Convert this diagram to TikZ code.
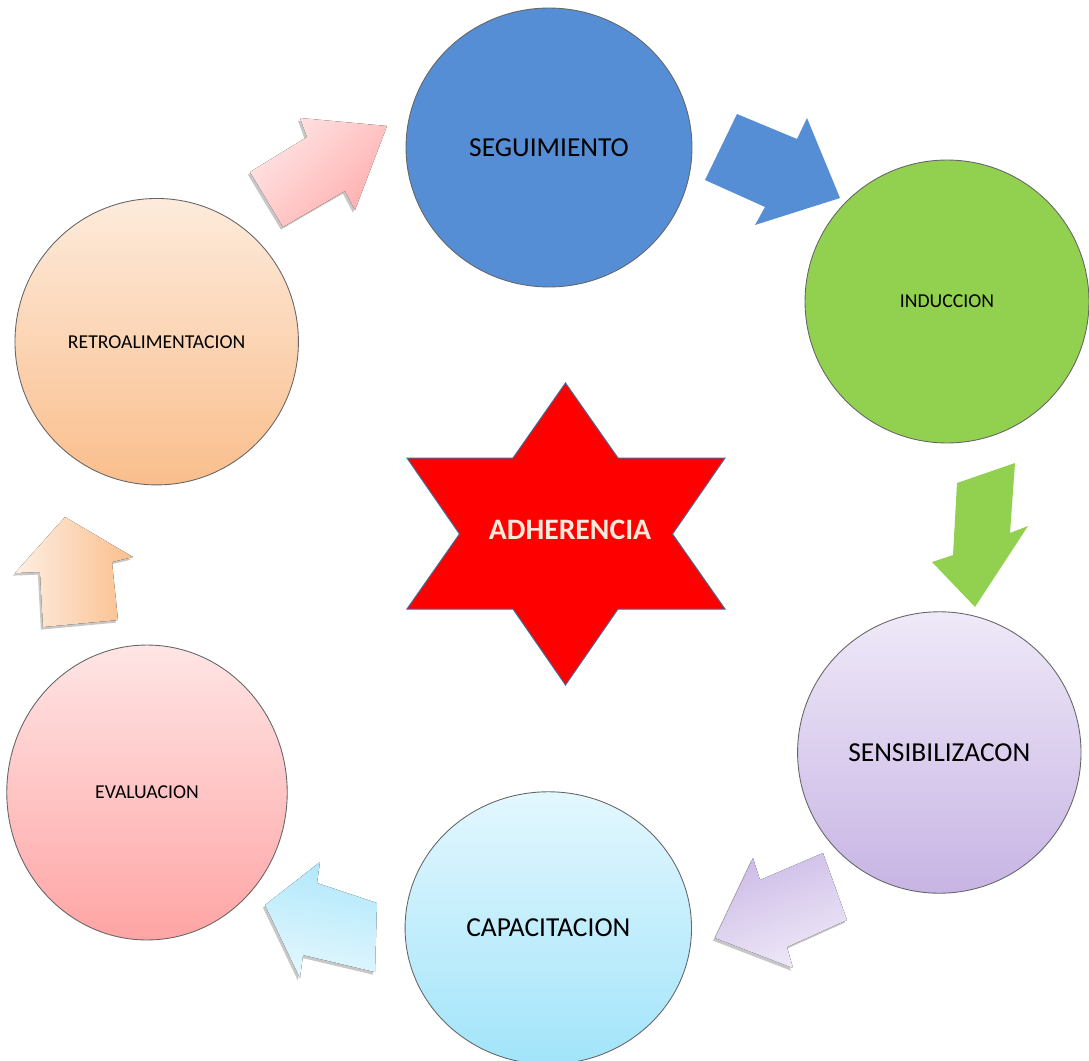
\documentclass[tikz,border=0pt]{standalone}
\usepackage{fontspec}
\setmainfont{Carlito}
\usepackage{xcolor}
\usepackage{tikz}
\usetikzlibrary{shapes.geometric}
\usetikzlibrary{shadows}

\definecolor{segblue}{RGB}{85,142,213}
\definecolor{indgreen}{RGB}{146,208,80}
\definecolor{senstop}{RGB}{239,233,248}
\definecolor{sensbot}{RGB}{199,180,228}
\definecolor{captop}{RGB}{227,247,254}
\definecolor{capbot}{RGB}{162,228,250}
\definecolor{evaltop}{RGB}{255,229,229}
\definecolor{evalbot}{RGB}{255,164,164}
\definecolor{retrotop}{RGB}{253,235,220}
\definecolor{retrobot}{RGB}{250,190,140}
\definecolor{adhred}{RGB}{255,0,0}
\definecolor{adhtext}{RGB}{253,233,217}
\definecolor{starline}{RGB}{70,105,150}

\tikzset{
  stage/.style={ellipse, draw=black!60, line width=0.5pt, inner sep=0pt, text=black},
  pastel/.style={drop shadow={shadow xshift=-1.2pt, shadow yshift=-1.5pt, fill=black, opacity=0.22}},
}

\begin{document}
\begin{tikzpicture}[x=0.02cm,y=-0.02cm]
                \useasboundingbox (0,0) rectangle (1089,1061);
                {\normalsize

                % Drawing star ADHERENCIA
                \draw [fill=adhred, draw=starline, line width=0.02cm] (565.5,383) -- (618,458) -- (725,458) -- (672.5,534) -- (725,609) -- (618,609) -- (565.5,685) -- (513,609) -- (407,609) -- (459.5,534) -- (407,458) -- (513,458) -- cycle;%
                \draw (570,530) node (adh) [text=adhtext, font=\fontsize{16.9}{20}\selectfont\bfseries] {ADHERENCIA};%

                % Marking stage SEGUIMIENTO
                \draw (549,147.5) node (seg) [stage, fill=segblue, minimum width=5.72cm, minimum height=5.58cm, font=\fontsize{15.6}{18}\selectfont] {SEGUIMIENTO};%

                % Marking stage INDUCCION
                \draw (947,301.5) node (ind) [stage, fill=indgreen, minimum width=5.68cm, minimum height=5.66cm, font=\fontsize{11.2}{14}\selectfont] {INDUCCION};%

                % Marking stage SENSIBILIZACON
                \draw (939.3,752.5) node (sens) [stage, top color=senstop, bottom color=sensbot, minimum width=5.67cm, minimum height=5.63cm, font=\fontsize{15.6}{18}\selectfont] {SENSIBILIZACON};%

                % Marking stage CAPACITACION
                \draw (548.3,928) node (cap) [stage, top color=captop, bottom color=capbot, minimum width=5.73cm, minimum height=5.45cm, font=\fontsize{15.6}{18}\selectfont] {CAPACITACION};%

                % Marking stage EVALUACION
                \draw (147,792.5) node (eval) [stage, top color=evaltop, bottom color=evalbot, minimum width=5.61cm, minimum height=5.90cm, font=\fontsize{11.2}{14}\selectfont] {EVALUACION};%

                % Marking stage RETROALIMENTACION
                \draw (156.7,341.7) node (retro) [stage, top color=retrotop, bottom color=retrobot, minimum width=5.67cm, minimum height=5.73cm, font=\fontsize{11.2}{14}\selectfont] {RETROALIMENTACION};%

                % Drawing arrow seg -> ind
                \fill [segblue] (737,114) -- (797,139) -- (807,118) -- (840,198) -- (755,225) -- (765,207) -- (705,180) -- cycle;%

                % Drawing arrow ind -> sens
                \fill [indgreen] (1015,463) -- (957,483) -- (953,555) -- (932,562) -- (975,607) -- (1028,526) -- (1010,533) -- cycle;%

                % Drawing arrow sens -> cap
                \fill [pastel, top color=sensbot!90, bottom color=senstop, shading angle=20] (823,853) -- (847,920) -- (787,947) -- (793,968) -- (715,938) -- (753,858) -- (760,880) -- cycle;%

                % Drawing arrow cap -> eval
                \fill [pastel, top color=capbot!85, bottom color=captop, shading angle=-10] (377,903) -- (375,972) -- (303,955) -- (300,978) -- (265,905) -- (320,862) -- (317,883) -- cycle;%

                % Drawing arrow eval -> retro
                \fill [pastel, top color=retrotop!80!white, bottom color=retrobot, shading angle=90] (43,627) -- (118,620) -- (112,562) -- (133,557) -- (65,517) -- (15,573) -- (40,572) -- cycle;%

                % Drawing arrow retro -> seg
                \fill [pastel, top color=evaltop, bottom color=evalbot!90, shading angle=45] (250,172) -- (307,137) -- (300,118) -- (387,126) -- (355,210) -- (345,191) -- (283,227) -- cycle;%
                }
\end{tikzpicture}
\end{document}
